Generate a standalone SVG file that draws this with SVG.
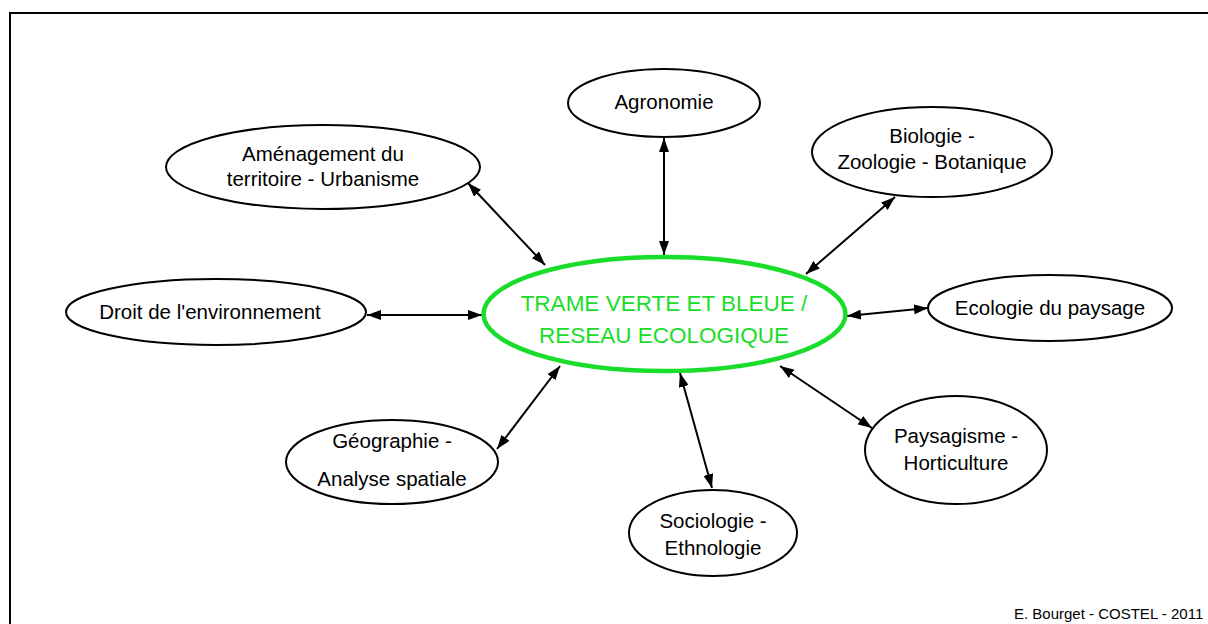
<svg xmlns="http://www.w3.org/2000/svg" width="1208" height="624" viewBox="0 0 1208 624">
<style>
.n{fill:#fff;stroke:#000;stroke-width:2}
.t{font-family:"Liberation Sans",Arial,sans-serif;font-size:20.5px;fill:#000;text-anchor:middle}
.c{fill:#fff;stroke:#19dd2a;stroke-width:4.5}
.ct{font-family:"Liberation Sans",Arial,sans-serif;font-size:22.5px;fill:#19dd2a;text-anchor:middle}
.a{stroke:#000;stroke-width:2;fill:none;marker-start:url(#ah);marker-end:url(#ah)}
</style>
<defs>
<marker id="ah" viewBox="0 0 14 10" markerWidth="14" markerHeight="10" refX="14" refY="5" orient="auto-start-reverse" markerUnits="userSpaceOnUse">
<path d="M0,0 L14,5 L0,10 z" fill="#000"/>
</marker>
</defs>
<rect x="0" y="0" width="1208" height="624" fill="#fff"/>
<rect x="10" y="13" width="1220" height="630" fill="none" stroke="#000" stroke-width="2"/>
<g id="connectors">
<line class="a" x1="664" y1="138" x2="664" y2="255"/>
<line class="a" x1="468" y1="183" x2="545" y2="265"/>
<line class="a" x1="895" y1="197" x2="806" y2="274"/>
<line class="a" x1="367" y1="315" x2="482" y2="315"/>
<line class="a" x1="847" y1="316" x2="928" y2="308"/>
<line class="a" x1="497" y1="449" x2="560" y2="366"/>
<line class="a" x1="680" y1="373" x2="712" y2="488"/>
<line class="a" x1="780" y1="366" x2="872" y2="428"/>
</g>
<g id="center">
<ellipse class="c" cx="664.5" cy="314" rx="181" ry="57"/>
<text class="ct" x="664" y="311">TRAME VERTE ET BLEUE /</text>
<text class="ct" x="664" y="343">RESEAU ECOLOGIQUE</text>
</g>
<g id="agronomie">
<ellipse class="n" cx="664" cy="103" rx="96" ry="34"/>
<text class="t" x="664" y="109">Agronomie</text>
</g>
<g id="amenagement">
<ellipse class="n" cx="323" cy="167" rx="157" ry="42"/>
<text class="t" x="323" y="161">Aménagement du</text>
<text class="t" x="323" y="186">territoire - Urbanisme</text>
</g>
<g id="biologie">
<ellipse class="n" cx="932" cy="152" rx="120" ry="45"/>
<text class="t" x="932" y="143">Biologie -</text>
<text class="t" x="932" y="169">Zoologie - Botanique</text>
</g>
<g id="droit">
<ellipse class="n" cx="216" cy="312" rx="150" ry="33"/>
<text class="t" x="210" y="319">Droit de l'environnement</text>
</g>
<g id="ecologie">
<ellipse class="n" cx="1050" cy="308" rx="122" ry="33"/>
<text class="t" x="1050" y="315">Ecologie du paysage</text>
</g>
<g id="geographie">
<ellipse class="n" cx="392" cy="462" rx="106" ry="42"/>
<text class="t" x="392" y="448">Géographie -</text>
<text class="t" x="392" y="486">Analyse spatiale</text>
</g>
<g id="sociologie">
<ellipse class="n" cx="713" cy="533" rx="84" ry="43"/>
<text class="t" x="713" y="528">Sociologie -</text>
<text class="t" x="713" y="555">Ethnologie</text>
</g>
<g id="paysagisme">
<ellipse class="n" cx="956" cy="450" rx="91" ry="54"/>
<text class="t" x="956" y="443">Paysagisme -</text>
<text class="t" x="956" y="470">Horticulture</text>
</g>
<text x="1014" y="619" font-family="Liberation Sans,Arial,sans-serif" font-size="15" fill="#000">E. Bourget - COSTEL - 2011</text>
</svg>
